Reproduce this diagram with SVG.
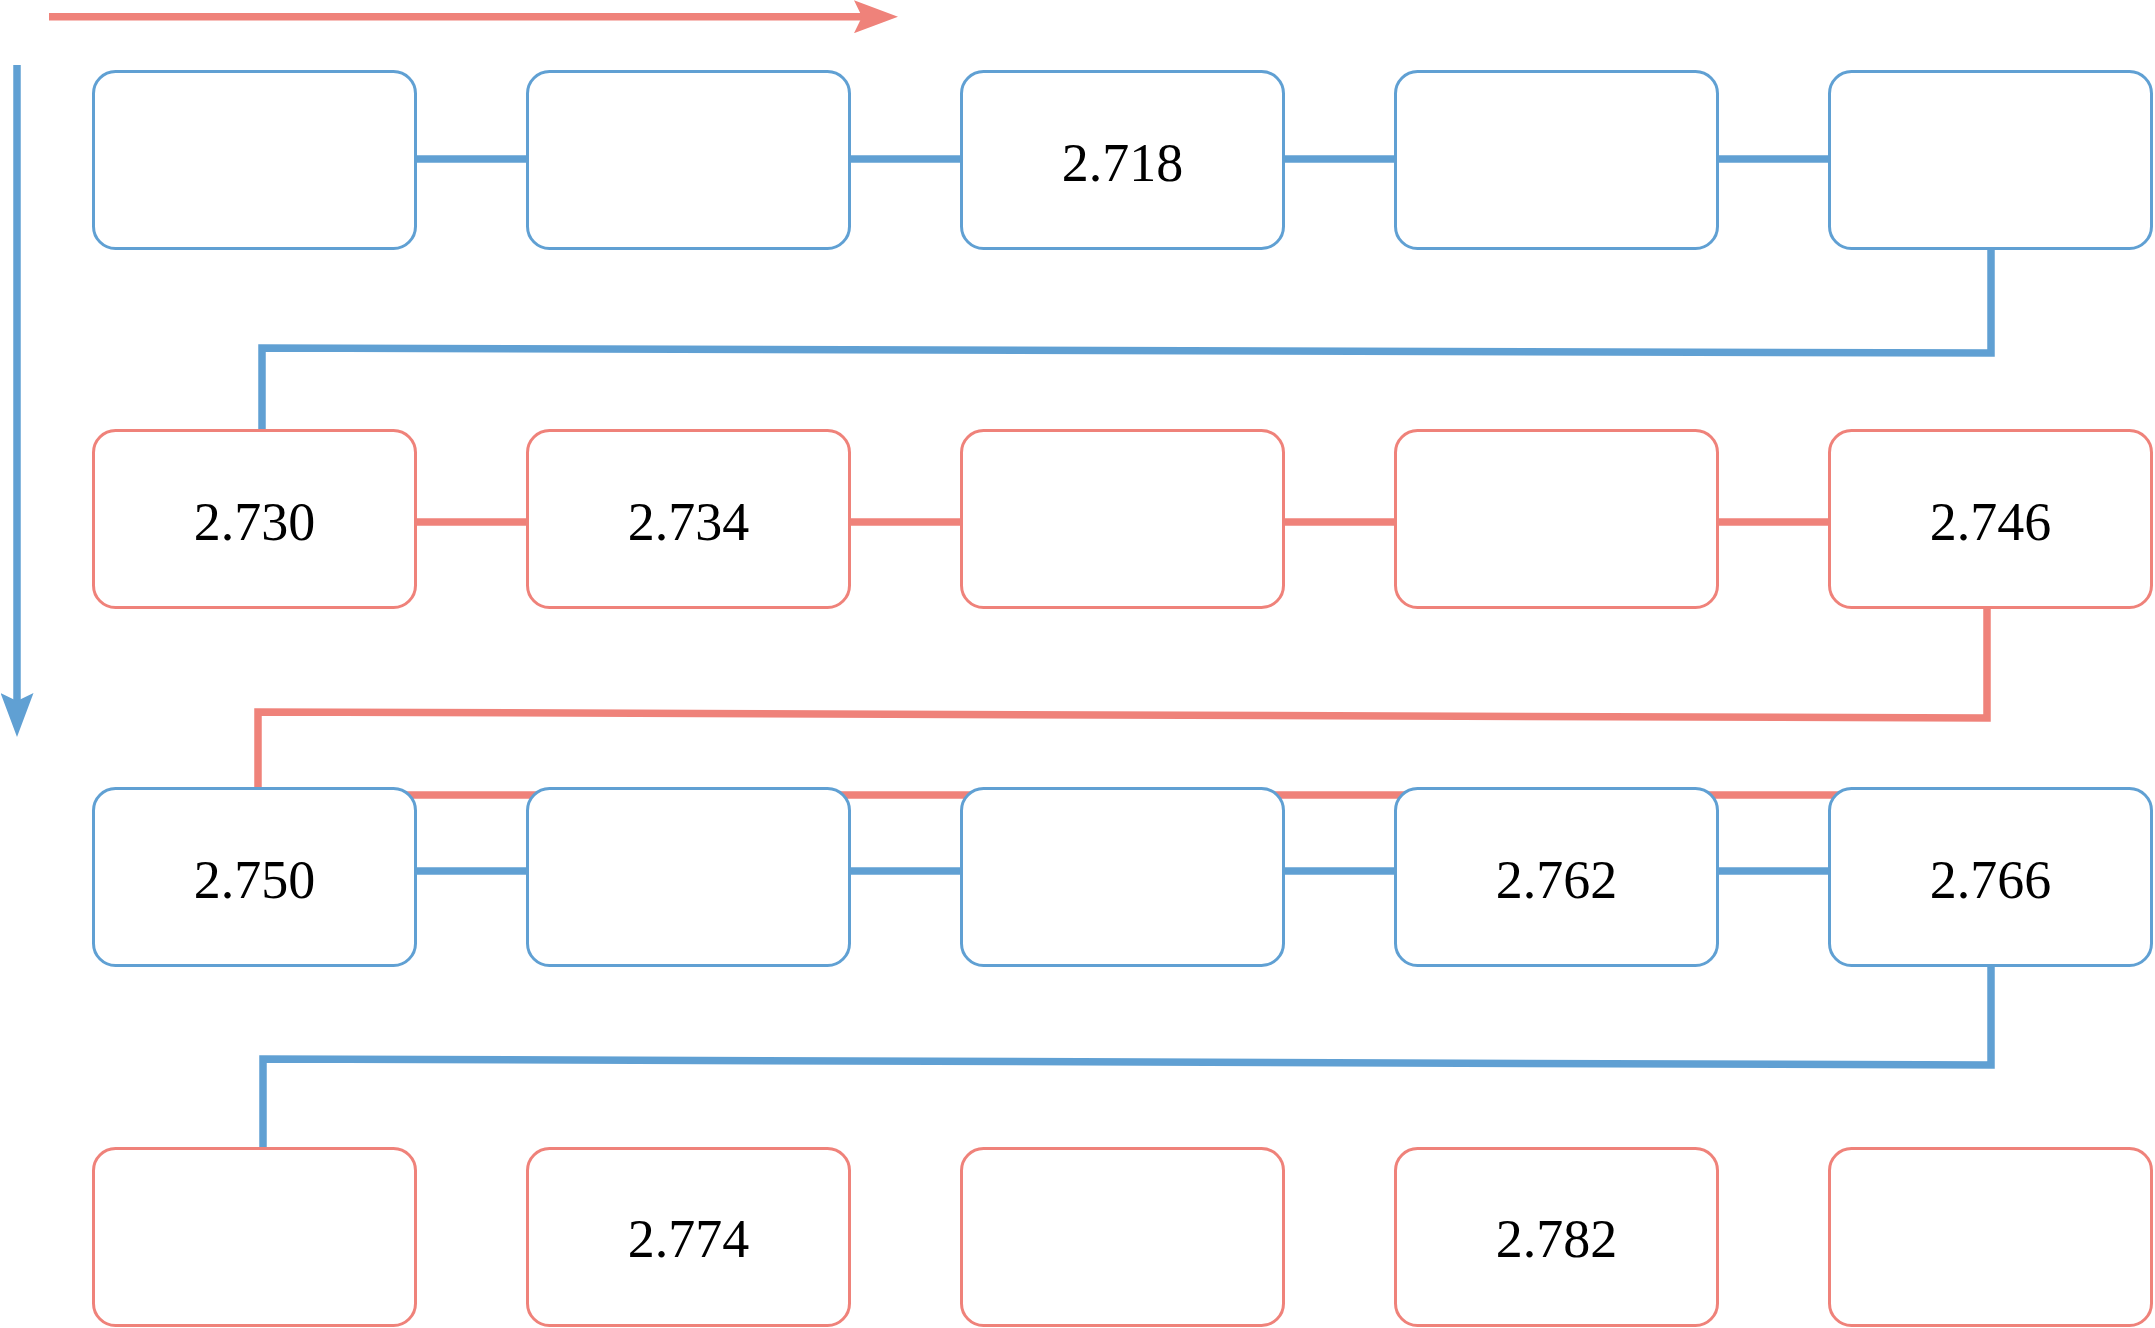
<svg xmlns="http://www.w3.org/2000/svg" width="2155" height="1328" viewBox="0 0 2155 1328">
<style>
.bg{fill:#ffffff}
.nb{fill:#ffffff;stroke:#60A0D3;stroke-width:3}
.nr{fill:#ffffff;stroke:#EF827A;stroke-width:3}
.cb{fill:none;stroke:#60A0D3;stroke-width:7.5}
.cr{fill:none;stroke:#EF827A;stroke-width:7.5}
.t{font-family:"Liberation Serif","Times New Roman",serif;font-size:54px;fill:#000;text-anchor:middle}
</style>
<defs>
<marker id="ahR" viewBox="0 0 44 33" refX="8" refY="16.5" markerWidth="44" markerHeight="33" markerUnits="userSpaceOnUse" orient="auto">
<path d="M0,0 L44,16.5 L0,33 L8,16.5 Z" fill="#EF827A"/>
</marker>
<marker id="ahB" viewBox="0 0 44 33" refX="8" refY="16.5" markerWidth="44" markerHeight="33" markerUnits="userSpaceOnUse" orient="auto">
<path d="M0,0 L44,16.5 L0,33 L8,16.5 Z" fill="#60A0D3"/>
</marker>
</defs>
<rect class="bg" x="0" y="0" width="2155" height="1328"/>
<g id="connectors">
<line class="cr" x1="49" y1="16.7" x2="862" y2="16.7" marker-end="url(#ahR)"/>
<line class="cb" x1="17" y1="65" x2="17" y2="701" marker-end="url(#ahB)"/>
<!-- row 1 -->
<line class="cb" x1="415" y1="159" x2="530" y2="159"/>
<line class="cb" x1="849" y1="159" x2="964" y2="159"/>
<line class="cb" x1="1283" y1="159" x2="1398" y2="159"/>
<line class="cb" x1="1717" y1="159" x2="1832" y2="159"/>
<!-- row 2 -->
<line class="cr" x1="415" y1="522" x2="530" y2="522"/>
<line class="cr" x1="849" y1="522" x2="964" y2="522"/>
<line class="cr" x1="1283" y1="522" x2="1398" y2="522"/>
<line class="cr" x1="1717" y1="522" x2="1832" y2="522"/>
<!-- row 3 -->
<line class="cr" x1="262" y1="795" x2="1990" y2="795"/>
<line class="cb" x1="415" y1="871" x2="530" y2="871"/>
<line class="cb" x1="849" y1="871" x2="964" y2="871"/>
<line class="cb" x1="1283" y1="871" x2="1398" y2="871"/>
<line class="cb" x1="1717" y1="871" x2="1832" y2="871"/>
<!-- elbows -->
<polyline class="cb" points="1991,249 1991,353 262,348 262,430"/>
<polyline class="cr" points="1987,608 1987,718 258,712 258,788"/>
<polyline class="cb" points="1991,967 1991,1065 263,1059 263,1148"/>
</g>
<g id="r1c1"><rect class="nb" x="93.5" y="71.5" width="322" height="177" rx="22"/></g>
<g id="r1c2"><rect class="nb" x="527.5" y="71.5" width="322" height="177" rx="22"/></g>
<g id="r1c3"><rect class="nb" x="961.5" y="71.5" width="322" height="177" rx="22"/><text class="t" x="1122.5" y="181">2.718</text></g>
<g id="r1c4"><rect class="nb" x="1395.5" y="71.5" width="322" height="177" rx="22"/></g>
<g id="r1c5"><rect class="nb" x="1829.5" y="71.5" width="322" height="177" rx="22"/></g>
<g id="r2c1"><rect class="nr" x="93.5" y="430.5" width="322" height="177" rx="22"/><text class="t" x="254.5" y="540">2.730</text></g>
<g id="r2c2"><rect class="nr" x="527.5" y="430.5" width="322" height="177" rx="22"/><text class="t" x="688.5" y="540">2.734</text></g>
<g id="r2c3"><rect class="nr" x="961.5" y="430.5" width="322" height="177" rx="22"/></g>
<g id="r2c4"><rect class="nr" x="1395.5" y="430.5" width="322" height="177" rx="22"/></g>
<g id="r2c5"><rect class="nr" x="1829.5" y="430.5" width="322" height="177" rx="22"/><text class="t" x="1990.5" y="540">2.746</text></g>
<g id="r3c1"><rect class="nb" x="93.5" y="788.5" width="322" height="177" rx="22"/><text class="t" x="254.5" y="898">2.750</text></g>
<g id="r3c2"><rect class="nb" x="527.5" y="788.5" width="322" height="177" rx="22"/></g>
<g id="r3c3"><rect class="nb" x="961.5" y="788.5" width="322" height="177" rx="22"/></g>
<g id="r3c4"><rect class="nb" x="1395.5" y="788.5" width="322" height="177" rx="22"/><text class="t" x="1556.5" y="898">2.762</text></g>
<g id="r3c5"><rect class="nb" x="1829.5" y="788.5" width="322" height="177" rx="22"/><text class="t" x="1990.5" y="898">2.766</text></g>
<g id="r4c1"><rect class="nr" x="93.5" y="1148.5" width="322" height="177" rx="22"/></g>
<g id="r4c2"><rect class="nr" x="527.5" y="1148.5" width="322" height="177" rx="22"/><text class="t" x="688.5" y="1257">2.774</text></g>
<g id="r4c3"><rect class="nr" x="961.5" y="1148.5" width="322" height="177" rx="22"/></g>
<g id="r4c4"><rect class="nr" x="1395.5" y="1148.5" width="322" height="177" rx="22"/><text class="t" x="1556.5" y="1257">2.782</text></g>
<g id="r4c5"><rect class="nr" x="1829.5" y="1148.5" width="322" height="177" rx="22"/></g>
</svg>
